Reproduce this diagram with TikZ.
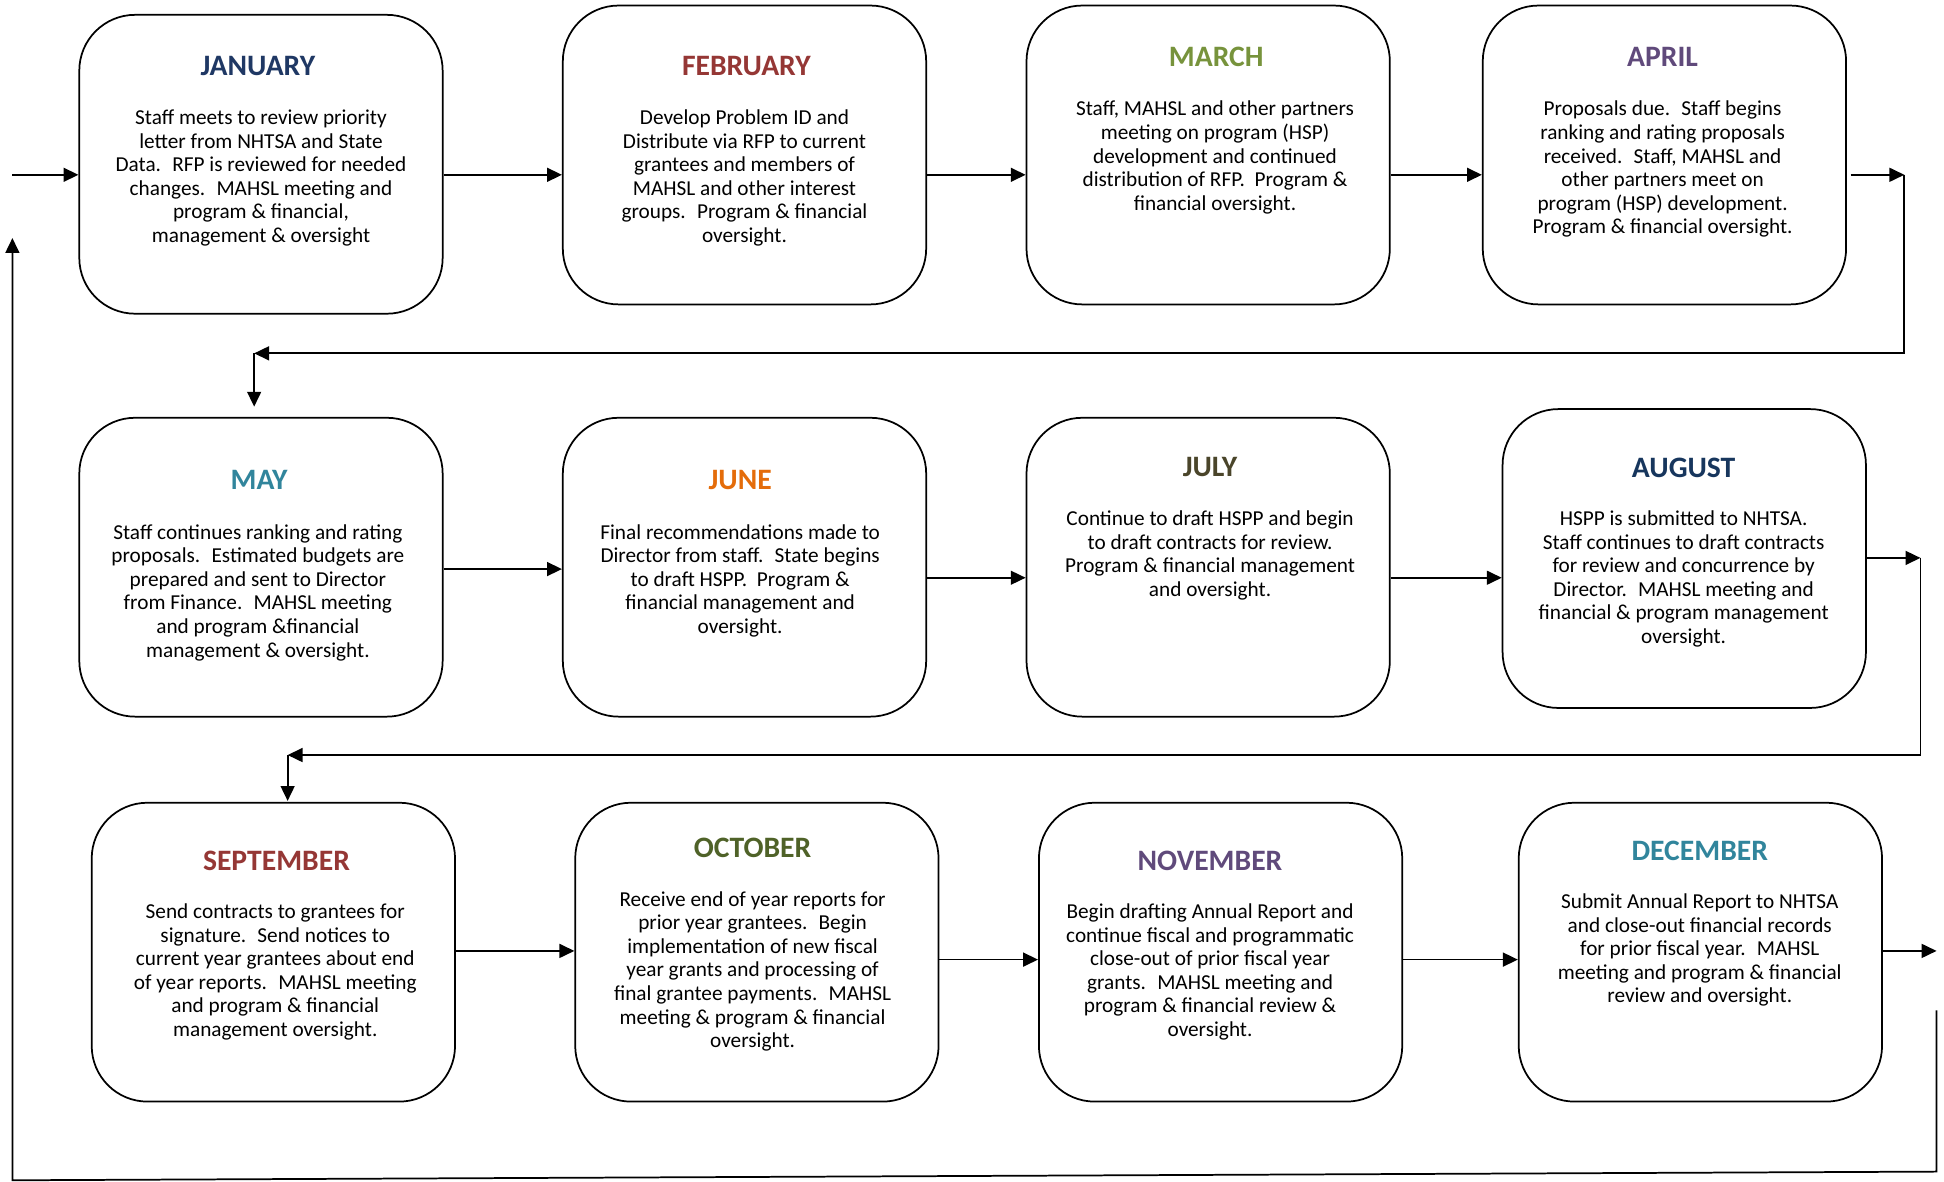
\documentclass[tikz,border=0pt]{standalone}
\usepackage{fontspec}
\setmainfont{Carlito}
\usetikzlibrary{arrows.meta}

\definecolor{navyA}{HTML}{1F3864}
\definecolor{navyB}{HTML}{17365D}
\definecolor{wine}{HTML}{953735}
\definecolor{olive}{HTML}{77933C}
\definecolor{olivedark}{HTML}{4F6228}
\definecolor{plum}{HTML}{604A7B}
\definecolor{teal}{HTML}{31859C}
\definecolor{pumpkin}{HTML}{E46C0A}
\definecolor{khaki}{HTML}{4A452A}

\begin{document}
\begin{tikzpicture}[x=0.025cm, y=-0.025cm, >={Triangle[length=0.3cm,width=0.28cm]}, line width=1pt,
	monthbox/.style={draw, rounded corners=1.125cm, minimum width=7.325cm, minimum height=6.025cm, inner sep=0pt},
	monthtitle/.style={font=\fontsize{17}{20}\selectfont\bfseries, inner sep=0pt},
	monthtext/.style={align=center, font=\fontsize{12.2}{13.5}\selectfont, inner sep=0pt}]
	
	\useasboundingbox (0,0) rectangle (1568,953);
	
	% ==================== 第一行：一月 ~ 四月 ====================
	% 1. 圆角框
	\node[monthbox] (jan) at (210.5,132.5) {};
	\node[monthbox] (feb) at (600.5,125) {};
	\node[monthbox] (mar) at (974.5,125) {};
	\node[monthbox] (apr) at (1342.5,125) {};
	
	% 2. 标题与说明文字
	\node[monthtitle, text=navyA] (jantitle) at (208,53) {JANUARY};
	\node[monthtext] (jantext) at (210.5,143.5) {Staff meets to review priority\\letter from NHTSA and State\\Data.~ RFP is reviewed for needed\\changes.~ MAHSL meeting and\\program \& financial,\\management \& oversight};
	\node[monthtitle, text=wine] (febtitle) at (602,53) {FEBRUARY};
	\node[monthtext] (febtext) at (600.5,143.5) {Develop Problem ID and\\Distribute via RFP to current\\grantees and members of\\MAHSL and other interest\\groups.~ Program \& financial\\oversight.};
	\node[monthtitle, text=olive] (martitle) at (981,46) {MARCH};
	\node[monthtext] (martext) at (980,127) {Staff, MAHSL and other partners\\meeting on program (HSP)\\development and continued\\distribution of RFP.~ Program \&\\financial oversight.};
	\node[monthtitle, text=plum] (aprtitle) at (1341,46) {APRIL};
	\node[monthtext] (aprtext) at (1341,136.5) {Proposals due.~ Staff begins\\ranking and rating proposals\\received.~ Staff, MAHSL and\\other partners meet on\\program (HSP) development.\\Program \& financial oversight.};
	
	% ==================== 第二行：五月 ~ 八月 ====================
	\node[monthbox] (may) at (210.5,457.5) {};
	\node[monthbox] (jun) at (600.5,457.5) {};
	\node[monthbox] (jul) at (974.5,457.5) {};
	\node[monthbox] (aug) at (1358.5,450.5) {};
	
	\node[monthtitle, text=teal] (maytitle) at (209,387) {MAY};
	\node[monthtext] (maytext) at (208,478) {Staff continues ranking and rating\\proposals.~ Estimated budgets are\\prepared and sent to Director\\from Finance.~ MAHSL meeting\\and program \&financial\\management \& oversight.};
	\node[monthtitle, text=pumpkin] (juntitle) at (597,387) {JUNE};
	\node[monthtext] (juntext) at (597,468.5) {Final recommendations made to\\Director from staff.~ State begins\\to draft HSPP.~ Program \&\\financial management and\\oversight.};
	\node[monthtitle, text=khaki] (jultitle) at (976,377) {JULY};
	\node[monthtext] (jultext) at (976,448) {Continue to draft HSPP and begin\\to draft contracts for review.\\Program \& financial management\\and oversight.};
	\node[monthtitle, text=navyB] (augtitle) at (1358,377) {AUGUST};
	\node[monthtext] (augtext) at (1358,467) {HSPP is submitted to NHTSA.\\Staff continues to draft contracts\\for review and concurrence by\\Director.~ MAHSL meeting and\\financial \& program management\\oversight.};
	
	% ==================== 第三行：九月 ~ 十二月 ====================
	\node[monthbox] (sep) at (220.5,768) {};
	\node[monthbox] (oct) at (610.5,768) {};
	\node[monthbox] (nov) at (984.5,768) {};
	\node[monthbox] (dec) at (1371.5,768) {};
	
	\node[monthtitle, text=wine] (septitle) at (223,694) {SEPTEMBER};
	\node[monthtext] (septext) at (222,784) {Send contracts to grantees for\\signature.~ Send notices to\\current year grantees about end\\of year reports.~ MAHSL meeting\\and program \& financial\\management oversight.};
	\node[monthtitle, text=olivedark] (octtitle) at (607,684) {OCTOBER};
	\node[monthtext] (octtext) at (607,783.5) {Receive end of year reports for\\prior year grantees.~ Begin\\implementation of new fiscal\\year grants and processing of\\final grantee payments.~ MAHSL\\meeting \& program \& financial\\oversight.};
	\node[monthtitle, text=plum] (novtitle) at (976,694) {NOVEMBER};
	\node[monthtext] (novtext) at (976,784) {Begin drafting Annual Report and\\continue fiscal and programmatic\\close-out of prior fiscal year\\grants.~ MAHSL meeting and\\program \& financial review \&\\oversight.};
	\node[monthtitle, text=teal] (dectitle) at (1371,686) {DECEMBER};
	\node[monthtext] (dectext) at (1371,766.5) {Submit Annual Report to NHTSA\\and close-out financial records\\for prior fiscal year.~ MAHSL\\meeting and program \& financial\\review and oversight.};
	
	% ==================== 连接箭头 ====================
	% 1. 辅助坐标（各行箭头高度与折返点）
	\coordinate (in) at (10,141);
	\coordinate (r2a) at (0,459);
	\coordinate (r2b) at (0,466);
	\coordinate (r2c) at (0,450);
	\coordinate (r3a) at (0,767);
	\coordinate (r3b) at (0,774);
	\coordinate (a1) at (1536,141);
	\coordinate (a3) at (205,285);
	\coordinate (a4) at (205,328);
	\coordinate (b1) at (1549,450);
	\coordinate (b3) at (232,609);
	\coordinate (b4) at (232,646);
	\coordinate (d1) at (1562,767);
	\coordinate (d2) at (1562,815);
	\coordinate (d3) at (1562,945);
	\coordinate (d4) at (10,952);
	\coordinate (d5) at (10,192);
	
	% 2. 第一行
	\draw[->] (in) -- (in -| jan.west);
	\draw[->] (jan.east |- in) -- (feb.west |- in);
	\draw[->] (feb.east |- in) -- (mar.west |- in);
	\draw[->] (mar.east |- in) -- (apr.west |- in);
	\draw[->] ([xshift=0.075cm]apr.east |- in) -- (a1);
	\draw[->] (a1) |- (a3);
	\draw[->] (a3) -- (a4);
	
	% 3. 第二行
	\draw[->] (may.east |- r2a) -- (jun.west |- r2a);
	\draw[->] (jun.east |- r2b) -- (jul.west |- r2b);
	\draw[->] (jul.east |- r2b) -- (aug.west |- r2b);
	\draw[->] (aug.east |- r2c) -- (b1);
	\draw[->] (b1) |- (b3);
	\draw[->] (b3) -- (b4);
	
	% 4. 第三行与回到一月的长线
	\draw[->] (sep.east |- r3a) -- (oct.west |- r3a);
	\draw[->] (oct.east |- r3b) -- (nov.west |- r3b);
	\draw[->] (nov.east |- r3b) -- (dec.west |- r3b);
	\draw[->] (dec.east |- r3a) -- (d1);
	\draw[->] (d2) -- (d3) -- (d4) -- (d5);
	
\end{tikzpicture}
\end{document}
